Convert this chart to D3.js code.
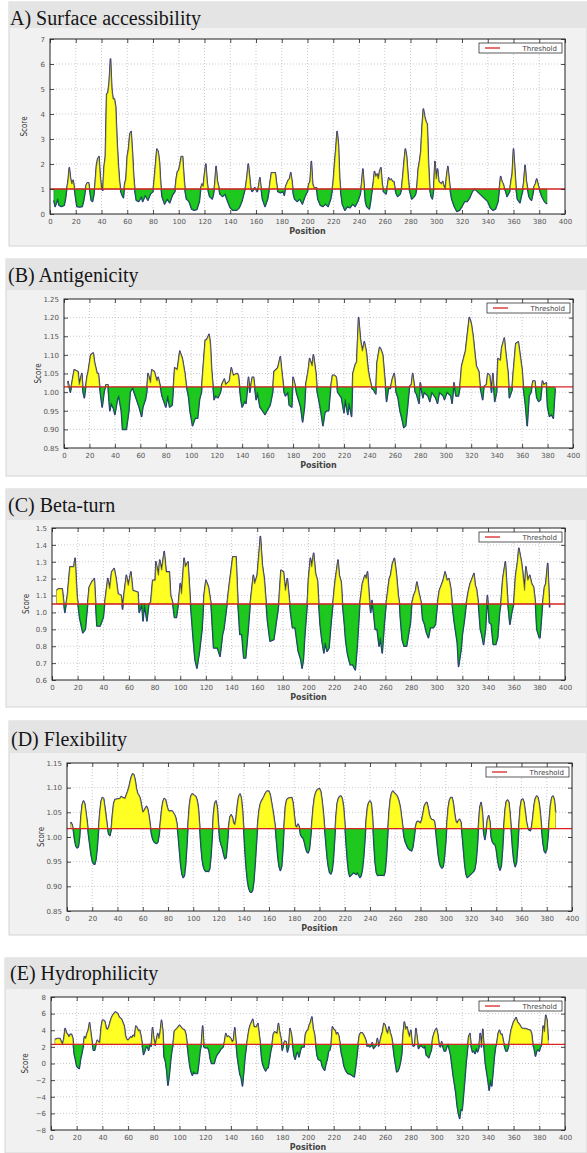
<!DOCTYPE html>
<html lang="en">
<head>
<meta charset="UTF-8">
<title>Epitope prediction profiles</title>
<script src="https://cdn.jsdelivr.net/npm/d3@7/dist/d3.min.js"></script>
<style>
    body{margin:0;background:#fff;}
    svg{display:block;}
</style>
</head>
<body>
<svg id="fig" width="587" height="1153"></svg>
<script>
// scores, [position, score]
var accessibility = [[3,0.55],[4,0.3],[5,0.45],[6,0.6],[7,0.35],[9,0.3],[11,0.35],[12,0.6],[13,1.0],[14,1.3],[15,1.85],[16,1.4],[17,1.2],[18,1.35],[19,1.0],[20,0.6],[21,0.3],[23,0.28],[25,0.3],[26,0.5],[27,0.8],[28,1.15],[29,1.25],[30,1.25],[31,0.9],[32,0.55],[33,0.5],[34,0.75],[35,1.2],[36,1.9],[37,2.2],[38,2.3],[39,1.5],[40,1.0],[41,0.95],[42,1.9],[43,2.3],[44,4.8],[45,4.85],[46,5.3],[47,6.2],[48,5.0],[49,4.6],[50,4.6],[51,4.3],[52,3.0],[53,2.0],[54,1.3],[55,0.9],[56,0.75],[57,0.65],[58,1.2],[59,1.4],[60,2.3],[61,2.6],[62,3.2],[63,3.3],[64,2.5],[65,1.5],[66,0.9],[67,0.55],[69,0.5],[71,0.7],[72,0.5],[74,0.75],[76,0.55],[78,0.8],[80,0.9],[81,1.4],[82,2.0],[83,2.6],[84,2.5],[85,2.1],[86,1.2],[87,0.7],[89,0.4],[91,0.6],[93,0.45],[95,0.75],[97,0.9],[98,1.4],[99,1.7],[100,1.75],[101,2.0],[102,2.3],[103,2.3],[104,1.5],[105,0.9],[106,0.6],[108,0.5],[110,0.2],[112,0.15],[114,0.18],[116,0.5],[117,1.0],[118,1.2],[119,1.1],[120,1.6],[121,2.0],[122,1.3],[123,0.9],[124,0.7],[126,0.6],[127,0.8],[128,1.2],[129,1.9],[130,1.3],[131,1.1],[132,0.8],[134,0.7],[136,0.8],[138,0.5],[140,0.25],[142,0.15],[145,0.15],[147,0.25],[149,0.5],[151,0.9],[152,1.1],[153,1.5],[154,2.0],[155,1.5],[156,1.0],[157,0.9],[159,1.05],[161,0.9],[162,1.1],[163,1.45],[164,1.0],[165,0.6],[167,0.3],[169,0.6],[170,0.9],[171,1.3],[172,1.65],[175,1.65],[176,1.2],[177,0.9],[179,0.85],[181,0.9],[182,0.75],[183,1.1],[185,1.35],[186,1.4],[187,1.65],[188,1.3],[189,0.8],[190,0.6],[192,0.5],[194,0.6],[196,0.4],[198,0.7],[200,0.9],[201,1.2],[202,1.3],[203,2.1],[204,1.2],[205,1.05],[207,1.05],[208,0.6],[210,0.35],[212,0.3],[214,0.4],[216,0.3],[218,0.6],[219,0.9],[220,1.3],[221,2.0],[222,2.6],[223,3.3],[224,2.8],[225,1.4],[226,0.8],[227,0.4],[229,0.15],[231,0.3],[233,0.25],[235,0.4],[237,0.3],[239,0.5],[241,0.8],[242,1.2],[243,1.8],[244,1.1],[245,0.5],[246,0.3],[248,0.2],[249,0.5],[250,0.9],[251,1.2],[252,1.7],[253,1.5],[254,1.6],[255,1.4],[256,1.7],[257,1.85],[258,1.2],[259,0.9],[261,0.8],[262,1.1],[263,1.45],[264,1.35],[265,1.4],[266,1.3],[267,1.3],[268,1.0],[269,0.8],[270,0.7],[272,0.8],[273,1.0],[274,1.5],[275,2.1],[276,2.6],[277,2.3],[278,1.6],[279,1.0],[280,0.8],[281,0.6],[283,0.7],[284,0.8],[285,1.1],[286,1.8],[287,2.1],[288,2.5],[289,3.5],[290,4.2],[291,3.9],[292,3.7],[293,3.6],[294,2.0],[295,1.0],[296,0.7],[297,0.6],[298,1.0],[299,2.1],[300,1.4],[301,1.8],[302,1.3],[303,1.25],[304,1.2],[305,1.3],[306,1.1],[307,1.0],[308,1.5],[309,1.9],[310,1.4],[311,0.9],[312,0.6],[314,0.3],[316,0.1],[318,0.15],[320,0.3],[322,0.5],[324,0.5],[326,0.65],[328,0.9],[330,1.0],[332,0.9],[334,0.8],[336,0.7],[338,0.6],[340,0.5],[342,0.25],[344,0.15],[346,0.2],[348,0.5],[349,1.0],[350,1.5],[351,1.3],[352,1.2],[353,1.0],[354,0.9],[355,0.7],[357,0.9],[358,1.3],[359,1.6],[360,2.6],[361,1.8],[362,1.0],[363,0.6],[365,0.45],[366,0.7],[367,0.9],[368,1.3],[369,1.95],[370,1.3],[371,1.0],[372,0.7],[373,0.6],[374,0.55],[375,0.8],[376,1.1],[377,1.2],[378,1.4],[379,1.2],[380,1.0],[382,0.7],[384,0.5],[386,0.4]];

var antigenicity = [[3,1.03],[5,1.0],[8,1.06],[11,1.055],[12,1.02],[14,1.05],[15,1.0],[16,0.985],[18,1.04],[19,1.055],[21,1.10],[23,1.105],[24,1.08],[26,1.05],[27,1.05],[28.5,1.0],[30,0.96],[31.5,1.0],[33,1.02],[34.5,1.02],[36,0.95],[37,0.97],[39,0.955],[40,0.94],[42,0.98],[43,0.99],[45,0.95],[46,0.9],[49,0.9],[51,0.95],[52,1.0],[54,1.012],[55,1.0],[56,0.99],[59,0.96],[61,0.935],[62,0.96],[64,0.98],[65,1.0],[66,1.05],[68,1.025],[69,1.06],[71,1.055],[73,1.03],[74,1.04],[76,1.01],[77,0.99],[80,0.96],[81.5,0.99],[83,0.96],[85,0.965],[87,1.065],[89,1.06],[91,1.11],[93,1.09],[95,1.05],[96,1.02],[98,0.985],[99,0.95],[101,0.91],[103,0.93],[105,0.93],[106.5,0.98],[108,1.0],[109,1.05],[111,1.14],[112,1.14],[114,1.155],[115,1.13],[116,1.06],[118,0.98],[119,0.99],[121,0.985],[123,1.0],[124,1.02],[126,1.035],[127,1.02],[130,1.03],[131.5,1.065],[133,1.045],[136,1.05],[137,1.045],[139,0.98],[140,0.96],[142,0.975],[143,0.97],[145,1.04],[146,1.0],[148,1.04],[149,1.04],[151,0.98],[152,1.0],[154,0.96],[157,0.945],[158,0.94],[159.5,0.95],[162,0.965],[164,1.0],[165,1.055],[168,1.065],[170,1.095],[171,1.06],[173,1.0],[174,0.99],[176,1.0],[177,0.965],[179,0.96],[180,1.04],[181.5,1.02],[183,0.995],[186,0.96],[187.5,0.92],[189,0.96],[190,1.02],[192,1.06],[193,1.09],[195,1.07],[196,1.1],[198,1.05],[199,1.0],[200.5,0.975],[202,0.945],[203.5,0.91],[205,0.945],[206.5,0.95],[208,0.95],[209.5,1.01],[211,1.045],[212.5,1.045],[214,1.04],[215,1.0],[217,0.99],[218,0.985],[220,0.945],[221,0.98],[223,0.94],[224,0.97],[226,0.935],[227,1.05],[229,1.075],[230,1.08],[231.5,1.2],[233,1.14],[234.5,1.11],[236,1.135],[237.5,1.11],[239,1.06],[240,1.04],[242,1.01],[243.5,1.005],[245,0.995],[246,1.08],[248,1.12],[249,1.115],[250.5,1.1],[252,1.04],[253.5,0.975],[255,1.01],[256.5,1.01],[258,1.035],[259.5,1.05],[261,1.0],[262.5,0.985],[264,0.95],[265.5,0.93],[267,0.905],[268.5,0.91],[270,0.96],[271.5,1.015],[273,1.02],[274,1.05],[276,1.0],[277,0.995],[279,0.97],[280,1.025],[282,0.985],[283,1.0],[286,0.99],[287.5,0.975],[289,1.0],[292,0.985],[293.5,0.97],[295,1.0],[298,0.99],[299,0.98],[301,1.0],[304,0.99],[305,0.97],[306.5,1.025],[308,0.99],[310,0.99],[311,1.01],[312.5,1.07],[315.5,1.11],[318.5,1.2],[320,1.185],[321.5,1.15],[323,1.1],[324,1.07],[326,1.055],[327,1.015],[329,0.98],[330,1.015],[332,1.02],[333,1.05],[334.5,1.045],[336,1.0],[337,1.05],[338.5,0.975],[340,1.0],[341,1.09],[343,1.085],[344,1.12],[346,1.145],[347,1.11],[349,1.05],[350,0.985],[352,1.005],[353,1.05],[355,1.13],[357,1.135],[358,1.11],[360,1.06],[361,1.01],[362.5,0.97],[364,0.91],[365.5,0.99],[367,1.0],[368.5,1.03],[370,1.03],[371.5,0.985],[373,0.975],[374.5,0.98],[376,1.03],[377,1.02],[379,1.025],[380,0.96],[381.5,0.935],[383,0.94],[384.5,0.93],[386,1.01]];

var betaTurn = [[3.5,1.13],[5,1.14],[8,1.14],[10,1.0],[12,1.1],[14,1.27],[17,1.27],[18,1.32],[19.5,1.1],[21.5,0.97],[24,0.88],[26,0.9],[29,1.15],[31,1.18],[33,1.2],[35,0.92],[37.5,0.92],[40,0.97],[41,1.05],[43.5,1.2],[45,1.14],[46.5,1.24],[48.5,1.26],[50,1.2],[51.5,1.11],[54,1.1],[55,1.02],[56,1.1],[58,1.22],[59.5,1.16],[61.5,1.24],[63,1.13],[67,1.12],[68,1.0],[70,1.05],[71,0.95],[72,1.05],[74,0.95],[75.5,1.05],[77,1.06],[78.5,1.19],[80.5,1.19],[81,1.3],[83,1.22],[84,1.31],[85.5,1.25],[87.5,1.36],[89,1.24],[91.5,1.24],[92.5,1.1],[94,1.06],[95.5,0.97],[97,0.97],[98.5,1.05],[100,1.17],[101,1.11],[103,1.32],[104,1.27],[106,1.3],[108,1.05],[110,0.85],[111.5,0.72],[113,0.67],[115,0.77],[117,0.9],[118.5,1.1],[120,1.19],[122,1.15],[124,1.05],[126,0.79],[129,0.79],[131,0.74],[133,0.87],[134,0.9],[136.5,1.05],[138,1.15],[141,1.33],[143.5,1.33],[145,1.05],[146.5,0.87],[148,0.87],[149.5,0.73],[151,0.73],[153,0.9],[154.5,1.05],[157,1.22],[158,1.17],[160,1.22],[161,1.31],[162.5,1.45],[164,1.28],[165.5,1.2],[167,1.05],[168,0.95],[170,0.83],[173,0.84],[175,0.95],[176,1.0],[177,1.07],[178.5,1.25],[180.5,1.24],[182,1.13],[183.5,1.2],[185,1.08],[186,1.0],[187.5,0.91],[189.5,0.91],[192,0.77],[194,0.72],[195,0.67],[196,0.72],[197,0.85],[199,1.05],[200,1.2],[201.5,1.32],[202.5,1.27],[204,1.35],[205.5,1.23],[207,1.19],[208,1.05],[209,0.93],[210.5,0.83],[212,0.76],[213,0.82],[214.5,0.77],[216,0.79],[217.5,0.93],[219,1.05],[220.5,1.17],[223,1.31],[224,1.22],[225.5,1.18],[226.5,1.05],[228,0.93],[229,0.83],[230.5,0.75],[232.5,0.69],[234.5,0.69],[236.5,0.66],[238,0.8],[240,1.05],[242,1.17],[244,1.22],[245,1.2],[246,1.24],[247.5,1.08],[248.5,1.0],[249.5,1.07],[251,0.98],[252,0.9],[253.5,0.9],[255,0.8],[256,0.85],[257.5,0.76],[259,0.92],[260.5,1.05],[263,1.2],[264,1.22],[265.5,1.29],[267,1.32],[268.5,1.23],[270,1.1],[271,1.05],[271.5,0.98],[273,0.84],[274.5,0.8],[276.5,0.8],[278,0.87],[279.5,0.94],[280.5,1.05],[282,1.1],[283.5,1.13],[284.5,1.18],[286,1.12],[287.5,1.07],[288,1.05],[289,0.96],[290.5,0.93],[292,0.88],[293.5,0.85],[295,0.91],[297.5,0.91],[299,0.93],[300.5,1.05],[302,1.13],[303.5,1.16],[305,1.19],[306.5,1.24],[308,1.19],[309.5,1.2],[311,1.14],[312,1.05],[313.5,0.95],[316,0.82],[317,0.68],[319,0.78],[320,0.87],[321.5,0.95],[323,1.05],[324.5,1.12],[326,1.17],[327.5,1.2],[329,1.23],[330,1.16],[331,1.14],[332.5,1.05],[334,0.9],[335,0.87],[336.5,0.81],[338,0.9],[339.5,1.1],[341,0.94],[342.5,0.93],[344,0.81],[346,0.81],[347.5,0.85],[349,1.0],[350,1.05],[351.5,1.2],[353.5,1.3],[355.5,1.05],[357,0.93],[358.5,1.0],[360,1.05],[361.5,1.22],[363,1.3],[364,1.38],[366,1.3],[367,1.24],[368.5,1.13],[369.5,1.27],[371,1.19],[372.5,1.22],[374,1.17],[375.5,1.15],[377,1.05],[378,0.9],[380,0.85],[380.5,0.85],[382.5,1.05],[384,1.15],[385,1.17],[386.5,1.29],[388,1.03]];

var flexibility = [[3,1.03],[4,1.025],[5,1.015],[6,0.995],[7,0.982],[8,0.978],[9,0.98],[10,1.0],[11,1.04],[12,1.065],[13,1.073],[14,1.068],[15,1.05],[16,1.03],[17,1.005],[18,0.985],[19,0.965],[20,0.952],[21,0.946],[22,0.945],[23,0.955],[24,0.98],[25,1.015],[26,1.05],[27,1.072],[28,1.08],[29,1.078],[30,1.06],[31,1.04],[32,1.02],[33,1.006],[34,1.003],[35,1.015],[36,1.045],[37,1.068],[38,1.076],[40,1.077],[42,1.078],[43,1.082],[44,1.08],[46,1.078],[47,1.085],[48,1.092],[49,1.1],[50,1.112],[51,1.122],[52,1.128],[53,1.126],[54,1.115],[55,1.098],[56,1.088],[57,1.084],[58,1.078],[59,1.064],[60,1.05],[61,1.053],[62,1.058],[63,1.062],[64,1.056],[65,1.042],[66,1.022],[67,1.005],[68,0.995],[69,0.99],[70,0.988],[71,0.987],[72,0.99],[73,1.005],[74,1.03],[75,1.055],[76,1.072],[77,1.078],[78,1.076],[79,1.065],[80,1.055],[81,1.052],[83,1.053],[84,1.05],[85,1.046],[86,1.04],[87,1.028],[88,1.005],[89,0.975],[90,0.945],[91,0.925],[92,0.918],[93,0.922],[94,0.945],[95,0.985],[96,1.03],[97,1.065],[98,1.082],[99,1.087],[100,1.086],[101,1.084],[102,1.082],[103,1.075],[104,1.06],[105,1.025],[106,0.985],[107,0.955],[108,0.94],[109,0.933],[110,0.93],[111,0.931],[112,0.93],[113,0.935],[114,0.96],[115,1.0],[116,1.045],[117,1.068],[118,1.073],[119,1.06],[120,1.025],[121,0.995],[122,0.985],[123,0.978],[124,0.966],[125,0.956],[126,0.958],[127,0.985],[128,1.02],[129,1.04],[130,1.045],[131,1.04],[132,1.028],[133,1.025],[134,1.04],[135,1.065],[136,1.082],[137,1.087],[138,1.08],[139,1.055],[140,1.015],[141,0.97],[142,0.935],[143,0.91],[144,0.896],[145,0.889],[146,0.888],[147,0.892],[148,0.91],[149,0.945],[150,0.985],[151,1.025],[152,1.052],[153,1.066],[154,1.073],[155,1.077],[156,1.082],[157,1.088],[158,1.092],[159,1.093],[160,1.092],[161,1.085],[162,1.07],[163,1.055],[164,1.038],[165,1.02],[166,0.99],[167,0.96],[168,0.94],[169,0.932],[170,0.94],[171,0.975],[172,1.025],[173,1.062],[174,1.075],[175,1.078],[176,1.079],[178,1.08],[179,1.07],[180,1.045],[181,1.022],[182,1.02],[183,1.026],[184,1.02],[185,1.005],[186,1.0],[187,0.998],[188,0.99],[189,0.978],[190,0.97],[191,0.968],[192,0.975],[193,1.0],[194,1.03],[195,1.06],[196,1.08],[197,1.09],[198,1.095],[199,1.097],[200,1.098],[201,1.092],[202,1.075],[203,1.05],[204,1.02],[205,0.99],[206,0.96],[207,0.94],[208,0.928],[209,0.925],[210,0.932],[211,0.955],[212,0.995],[213,1.04],[214,1.068],[215,1.078],[216,1.082],[217,1.083],[218,1.078],[219,1.062],[220,1.03],[221,0.99],[222,0.955],[223,0.93],[224,0.92],[226,0.925],[227,0.928],[229,0.924],[230,0.928],[232,0.918],[233,0.922],[234,0.935],[235,0.96],[236,0.995],[237,1.035],[238,1.06],[239,1.07],[240,1.073],[241,1.068],[242,1.04],[243,0.99],[244,0.95],[245,0.928],[246,0.922],[249,0.923],[251,0.922],[252,0.93],[253,0.96],[254,1.005],[255,1.048],[256,1.075],[257,1.088],[258,1.093],[259,1.09],[260,1.087],[261,1.085],[262,1.08],[263,1.072],[264,1.06],[265,1.04],[266,1.02],[267,1.0],[268,0.99],[270,0.978],[272,0.973],[273,0.972],[274,0.98],[275,1.0],[276,1.02],[277,1.03],[278,1.032],[279,1.03],[280,1.028],[281,1.035],[282,1.048],[283,1.062],[284,1.068],[285,1.07],[286,1.06],[287,1.045],[288,1.038],[289,1.035],[290,1.035],[291,1.032],[292,1.015],[293,0.99],[294,0.965],[295,0.948],[296,0.94],[297,0.937],[298,0.94],[299,0.96],[300,0.99],[301,1.03],[302,1.06],[303,1.075],[304,1.08],[305,1.08],[306,1.068],[307,1.048],[308,1.032],[309,1.028],[310,1.033],[311,1.036],[312,1.03],[313,1.005],[314,0.975],[315,0.945],[316,0.925],[317,0.918],[318,0.92],[320,0.925],[322,0.93],[323,0.935],[324,0.95],[325,0.98],[326,1.025],[327,1.06],[328,1.07],[329,1.05],[330,1.01],[331,0.995],[332,1.012],[333,1.035],[334,1.043],[335,1.03],[336,1.0],[337,0.99],[338,0.986],[339,0.985],[340,0.975],[341,0.955],[342,0.94],[343,0.933],[344,0.942],[345,0.975],[346,1.02],[347,1.055],[348,1.072],[349,1.075],[350,1.07],[351,1.045],[352,1.01],[353,0.975],[354,0.95],[355,0.94],[356,0.948],[357,0.98],[358,1.025],[359,1.06],[360,1.075],[361,1.077],[362,1.07],[363,1.05],[364,1.03],[365,1.018],[366,1.014],[367,1.013],[368,1.02],[369,1.04],[370,1.065],[371,1.078],[372,1.083],[373,1.08],[374,1.068],[375,1.045],[376,1.015],[377,0.988],[378,0.972],[379,0.968],[380,0.975],[381,1.0],[382,1.035],[383,1.065],[384,1.08],[385,1.083],[386,1.075],[387,1.05]];

var hydrophilicity = [[3,2.9],[5,3.0],[7,3.0],[8,2.6],[9,2.3],[10,3.0],[11,4.2],[12,3.7],[13,3.5],[14,3.2],[15,3.5],[16,3.5],[17,3.0],[18,1.2],[19,0.5],[20,-0.3],[21,-0.5],[22,-0.6],[23,0.5],[24,1.2],[25,2.0],[26,3.2],[27,3.0],[28,3.6],[29,4.0],[30,4.9],[31,3.7],[32,2.5],[33,1.6],[34,1.6],[35,2.3],[36,2.8],[37,2.6],[38,2.5],[39,4.3],[40,5.2],[41,5.2],[42,5.0],[43,4.2],[44,4.1],[45,4.4],[46,5.0],[47,5.5],[48,5.8],[50,6.2],[52,6.0],[53,5.6],[55,5.3],[57,4.5],[58,3.3],[59,2.9],[60,2.8],[62,3.2],[63,3.1],[64,3.4],[65,3.2],[66,4.5],[67,4.3],[68,3.9],[69,4.0],[70,3.3],[71,2.3],[72,1.1],[73,1.5],[74,2.0],[75,2.0],[76,1.6],[77,2.3],[78,2.1],[79,4.3],[80,3.0],[81,2.2],[82,2.8],[83,3.6],[84,3.0],[85,3.8],[86,5.2],[87,4.0],[88,0.8],[89,0.3],[90,-0.8],[91,-2.6],[92,-1.5],[93,0.2],[94,1.5],[95,2.3],[96,3.9],[98,4.2],[100,4.6],[102,4.2],[104,4.0],[105,3.5],[106,2.3],[107,0.9],[108,-0.3],[109,-1.0],[110,-1.4],[111,-1.0],[112,-1.2],[114,-1.2],[115,0.0],[116,1.5],[117,2.3],[118,4.5],[119,2.0],[120,1.9],[122,1.9],[123,1.5],[124,0.5],[125,0.0],[127,0.0],[128,0.6],[129,1.0],[131,1.4],[132,1.7],[134,2.0],[135,2.6],[136,3.6],[137,3.2],[138,3.3],[140,3.0],[141,2.6],[142,2.8],[143,4.3],[144,2.5],[145,0.8],[146,-0.3],[147,-1.3],[148,-1.7],[149,-2.7],[150,-1.0],[151,0.8],[152,2.0],[153,3.0],[154,4.0],[155,4.6],[157,5.3],[158,4.4],[160,4.4],[161,4.8],[162,3.5],[163,2.3],[164,0.5],[165,-0.2],[166,-0.6],[167,-0.9],[168,-0.6],[169,-0.5],[170,0.5],[171,1.5],[172,2.2],[173,3.5],[174,3.8],[175,3.7],[176,3.6],[177,4.8],[178,3.7],[179,3.0],[180,1.6],[181,2.3],[182,2.7],[183,2.6],[184,1.4],[185,2.0],[186,4.2],[187,3.6],[188,2.3],[189,1.0],[190,0.5],[191,1.2],[192,1.4],[193,0.8],[194,1.5],[195,2.0],[197,2.0],[198,3.5],[199,3.9],[200,4.0],[201,4.6],[202,5.0],[203,5.6],[204,4.2],[205,3.6],[206,2.3],[207,1.0],[208,0.5],[209,0.4],[210,0.4],[211,-0.3],[212,-0.6],[213,-0.8],[214,0.0],[215,0.5],[216,1.5],[217,1.6],[218,2.3],[219,4.4],[220,4.1],[221,4.0],[222,3.5],[223,3.7],[224,3.3],[225,2.3],[226,1.2],[227,0.6],[228,-0.3],[229,-0.7],[230,-1.0],[231,-1.2],[233,-1.3],[234,-1.4],[235,-1.5],[236,-1.6],[237,-0.5],[238,0.8],[239,2.3],[240,3.4],[241,3.7],[242,3.7],[243,3.5],[244,3.2],[245,2.8],[246,2.1],[247,2.2],[248,2.0],[249,2.1],[250,2.5],[251,1.8],[252,2.0],[253,2.2],[254,3.0],[255,2.1],[256,2.6],[257,3.3],[258,3.8],[259,4.8],[260,4.6],[261,3.9],[262,3.6],[263,4.4],[264,3.7],[265,3.2],[266,2.3],[267,1.0],[268,0.0],[269,-1.0],[270,-0.9],[271,-0.5],[272,0.2],[273,1.2],[274,3.5],[275,5.0],[276,4.1],[277,4.4],[278,3.7],[279,3.2],[280,4.0],[281,2.4],[282,2.1],[283,2.2],[284,4.2],[285,3.0],[286,1.8],[287,2.1],[288,2.2],[289,2.0],[290,1.9],[291,2.1],[292,1.0],[293,0.9],[294,0.7],[295,1.2],[296,1.6],[297,3.0],[298,3.6],[299,4.0],[300,4.2],[301,3.5],[302,2.3],[303,2.0],[304,2.6],[305,2.0],[306,1.5],[307,1.5],[308,2.0],[309,2.3],[311,1.0],[313,-1.5],[315,-3.5],[316,-5.0],[317,-6.0],[318,-6.6],[319,-5.5],[320,-5.6],[321,-3.8],[322,-2.0],[323,0.0],[324,1.5],[325,3.2],[326,3.6],[327,2.0],[328,1.4],[329,1.5],[330,1.2],[331,1.8],[332,1.4],[333,1.9],[334,3.6],[335,2.0],[336,4.1],[337,1.8],[338,0.0],[339,-1.0],[340,-2.0],[341,-3.2],[342,-2.0],[343,-2.7],[344,-1.0],[345,0.8],[346,2.0],[347,2.5],[348,3.6],[349,4.0],[350,3.5],[351,3.5],[352,2.7],[353,2.0],[354,1.5],[355,1.5],[356,2.0],[357,3.0],[358,4.0],[359,4.5],[360,5.0],[362,5.5],[363,5.0],[364,4.8],[365,4.6],[366,4.3],[367,4.2],[369,4.2],[371,4.1],[373,4.0],[374,3.6],[375,2.3],[376,1.8],[377,0.9],[378,1.5],[379,1.7],[380,1.5],[381,2.0],[382,2.3],[383,4.5],[384,3.8],[385,5.8],[386,5.2],[387,2.8]];

var thresholds = [1.0, 1.014, 1.05, 1.017, 2.3];
var titles = ["A) Surface accessibility", "(B) Antigenicity", "(C) Beta-turn", "(D) Flexibility", "(E) Hydrophilicity"];
var accTicks = [0,1,2,3,4,5,6,7];
var antTicks = [0.85,0.90,0.95,1.00,1.05,1.10,1.15,1.20,1.25];
var betaTicks = [0.6,0.7,0.8,0.9,1.0,1.1,1.2,1.3,1.4,1.5];
var flexTicks = [0.85,0.90,0.95,1.00,1.05,1.10,1.15];
var hydroTicks = [-8,-6,-4,-2,0,2,4,6,8];
var positionTicks = d3.range(0, 401, 20);

var svg = d3.select("#fig");

// layout of the five stacked panels
var panels = [
    {data:accessibility, thr:thresholds[0], title:titles[0], ticks:accTicks, fmt:d3.format("d"),
        box:[9,2,244], band:26, tx:10, ty:25, plot:[50,565,39,214]},
    {data:antigenicity, thr:thresholds[1], title:titles[1], ticks:antTicks, fmt:d3.format(".2f"),
        box:[6,259,217], band:31, tx:8, ty:282, plot:[64,573,299,448]},
    {data:betaTurn, thr:thresholds[2], title:titles[2], ticks:betaTicks, fmt:d3.format(".1f"),
        box:[6,489,218], band:31, tx:8, ty:512, plot:[52,565,528,680]},
    {data:flexibility, thr:thresholds[3], title:titles[3], ticks:flexTicks, fmt:d3.format(".2f"),
        box:[9,721,214], band:32, tx:11, ty:746, plot:[67,572,763,911]},
    {data:hydrophilicity, thr:thresholds[4], title:titles[4], ticks:hydroTicks, fmt:d3.format("d"),
        box:[5,958,195], band:31, tx:10, ty:980, plot:[51,565,997,1130]}
];

panels.forEach(function(p, i){ drawPanel(p, i); });

function drawPanel(p, i){
    var g = svg.append("g");
    var L = p.plot[0], R = p.plot[1], T = p.plot[2], B = p.plot[3];

    // grey card + title band
    g.append("rect").attr("x", p.box[0]).attr("y", p.box[1])
        .attr("width", 587 - p.box[0]).attr("height", p.box[2])
        .attr("fill", "#f1f1f1").attr("stroke", "#d4d4d4").attr("stroke-width", 1);
    g.append("rect").attr("x", p.box[0]).attr("y", p.box[1])
        .attr("width", 587 - p.box[0]).attr("height", p.band)
        .attr("fill", "#e4e4e4");
    g.append("text").attr("x", p.tx).attr("y", p.ty)
        .attr("font-family", "'Liberation Serif', 'Times New Roman', serif")
        .attr("font-size", 20).attr("fill", "#151515")
        .text(p.title);

    var x = d3.scaleLinear().domain([0, 400]).range([L, R]);
    var y = d3.scaleLinear().domain([p.ticks[0], p.ticks[p.ticks.length - 1]]).range([B, T]);

    g.append("rect").attr("x", L).attr("y", T).attr("width", R - L).attr("height", B - T).attr("fill", "#fff");

    // dotted grid
    g.append("g").selectAll("line").data(positionTicks.slice(1, -1)).join("line")
        .attr("x1", function(d){ return x(d); }).attr("x2", function(d){ return x(d); })
        .attr("y1", T).attr("y2", B)
        .attr("stroke", "#b5b5b5").attr("stroke-width", 0.7).attr("stroke-dasharray", "1,2");
    g.append("g").selectAll("line").data(p.ticks.slice(1, -1)).join("line")
        .attr("x1", L).attr("x2", R)
        .attr("y1", function(d){ return y(d); }).attr("y2", function(d){ return y(d); })
        .attr("stroke", "#b5b5b5").attr("stroke-width", 0.7).attr("stroke-dasharray", "1,2");

    // clip regions above / below threshold
    var ty = y(p.thr);
    var idUp = "up" + i, idDn = "dn" + i;
    var defs = g.append("defs");
    defs.append("clipPath").attr("id", idUp).append("rect")
        .attr("x", L).attr("y", T).attr("width", R - L).attr("height", ty - T);
    defs.append("clipPath").attr("id", idDn).append("rect")
        .attr("x", L).attr("y", ty).attr("width", R - L).attr("height", B - ty);

    var line = d3.line().x(function(d){ return x(d[0]); }).y(function(d){ return y(d[1]); });
    var area = d3.area().x(function(d){ return x(d[0]); }).y0(ty).y1(function(d){ return y(d[1]); });

    g.append("path").datum(p.data).attr("d", line)
        .attr("fill", "none").attr("stroke", "#27279c").attr("stroke-width", 1.6)
        .attr("stroke-linejoin", "round");
    g.append("path").datum(p.data).attr("d", area)
        .attr("clip-path", "url(#" + idUp + ")")
        .attr("fill", "#ffff00").attr("fill-opacity", 0.86)
        .attr("stroke", "#555533").attr("stroke-width", 0.5);
    g.append("path").datum(p.data).attr("d", area)
        .attr("clip-path", "url(#" + idDn + ")")
        .attr("fill", "#00c000").attr("fill-opacity", 0.88)
        .attr("stroke", "#1f5a3a").attr("stroke-width", 0.5);

    // threshold line
    g.append("line").attr("x1", L).attr("x2", R).attr("y1", ty).attr("y2", ty)
        .attr("stroke", "#d92424").attr("stroke-width", 1.3);

    // axes, ticks pointing inward on all four sides
    var ax = g.append("g").attr("transform", "translate(0," + B + ")")
        .call(d3.axisBottom(x).tickValues(positionTicks).tickSize(-4).tickPadding(5));
    var ay = g.append("g").attr("transform", "translate(" + L + ",0)")
        .call(d3.axisLeft(y).tickValues(p.ticks).tickFormat(p.fmt).tickSize(-4).tickPadding(5));
    g.append("g").attr("transform", "translate(0," + T + ")")
        .call(d3.axisTop(x).tickValues(positionTicks).tickSize(-4).tickFormat(""));
    g.append("g").attr("transform", "translate(" + R + ",0)")
        .call(d3.axisRight(y).tickValues(p.ticks).tickSize(-4).tickFormat(""));
    g.selectAll(".domain").remove();
    g.selectAll(".tick line").attr("stroke", "#222").attr("stroke-width", 0.8);
    [ax, ay].forEach(function(a){
        a.selectAll("text").attr("font-family", "'DejaVu Sans', sans-serif")
            .attr("font-size", 7).attr("fill", "#555");
    });

    g.append("rect").attr("x", L).attr("y", T).attr("width", R - L).attr("height", B - T)
        .attr("fill", "none").attr("stroke", "#222").attr("stroke-width", 1);

    // axis titles
    g.append("text")
        .attr("transform", "translate(" + (L - 23) + "," + ((T + B) / 2) + ") rotate(-90)")
        .attr("text-anchor", "middle")
        .attr("font-family", "'DejaVu Sans Condensed', 'DejaVu Sans', sans-serif")
        .attr("font-size", 8).attr("fill", "#333")
        .text("Score");
    g.append("text").attr("x", (L + R) / 2).attr("y", B + 20)
        .attr("text-anchor", "middle")
        .attr("font-family", "'DejaVu Sans', sans-serif")
        .attr("font-size", 8).attr("font-weight", "bold").attr("fill", "#444")
        .text("Position");

    // legend
    var lg = g.append("g").attr("transform", "translate(" + (R - 86) + "," + (T + 4) + ")");
    lg.append("rect").attr("width", 83).attr("height", 10)
        .attr("fill", "#fff").attr("stroke", "#333").attr("stroke-width", 0.8);
    lg.append("line").attr("x1", 6).attr("x2", 21).attr("y1", 5).attr("y2", 5)
        .attr("stroke", "#d92424").attr("stroke-width", 1.3);
    lg.append("text").attr("x", 78).attr("y", 7.8).attr("text-anchor", "end")
        .attr("font-family", "'DejaVu Sans', sans-serif")
        .attr("font-size", 7).attr("fill", "#444")
        .text("Threshold");
}
</script>
</body>
</html>
